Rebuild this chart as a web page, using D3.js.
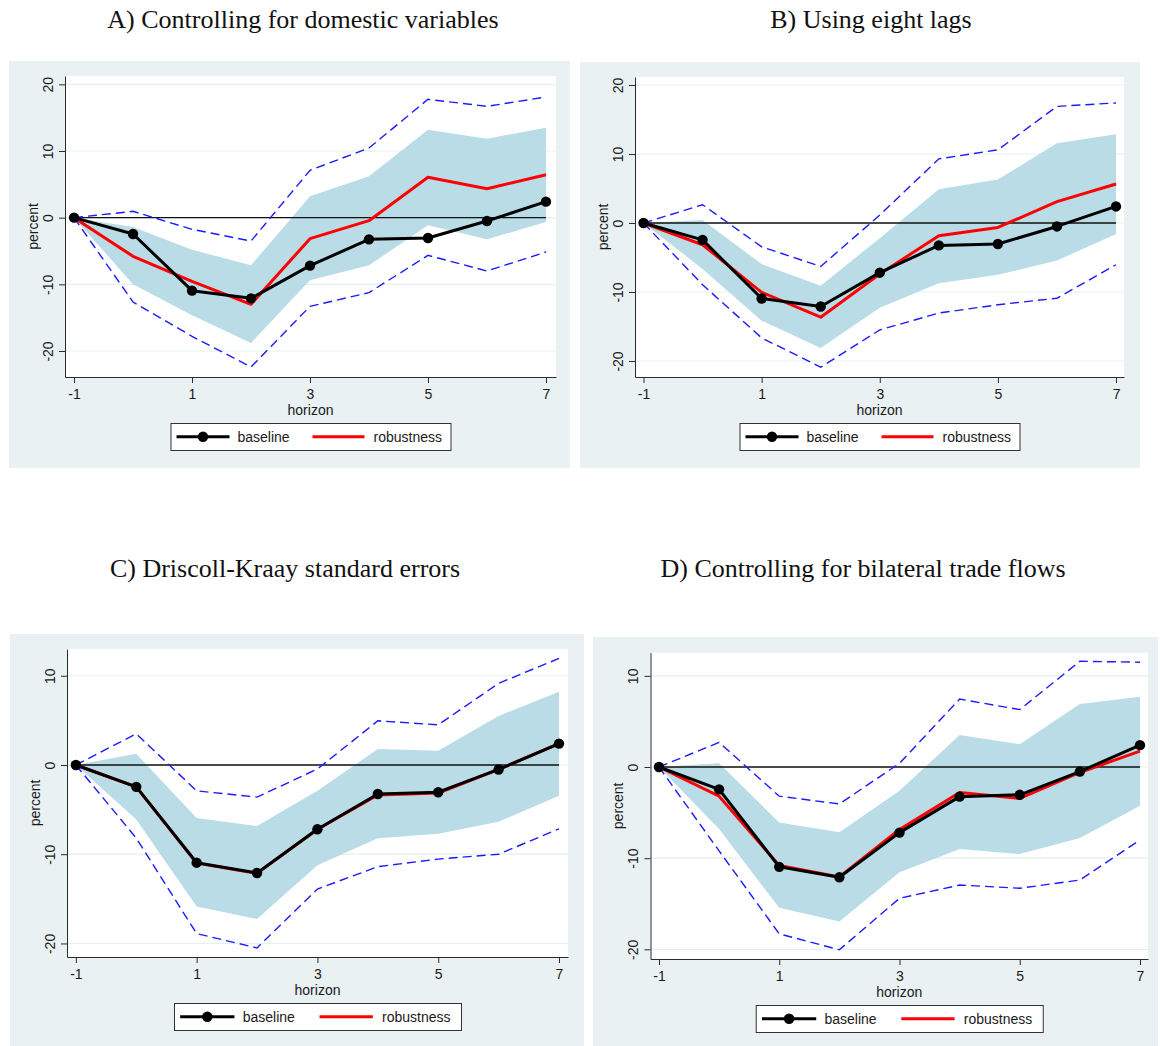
<!DOCTYPE html>
<html>
<head>
<meta charset="utf-8">
<script src="https://cdn.jsdelivr.net/npm/d3@7"></script>
<style>
  html, body { margin: 0; padding: 0; background: #ffffff; }
  svg { display: block; }
</style>
</head>
<body>
<svg id="chart" width="1160" height="1046"></svg>
<script>
// ---- data -------------------------------------------------------------
const horizons = [-1, 0, 1, 2, 3, 4, 5, 6, 7];
const xTickValues = [-1, 1, 3, 5, 7];
const yTicksWide = [-20, -10, 0, 10, 20];
const yTicksNarrow = [-20, -10, 0, 10];
const legendLabels = ["baseline", "robustness"];
const panelTitles = [
  "A) Controlling for domestic variables",
  "B) Using eight lags",
  "C) Driscoll-Kraay standard errors",
  "D) Controlling for bilateral trade flows"
];
const xAxisLabel = "horizon";
const yAxisLabel = "percent";

// baseline impulse response (same in every panel)
const baseline = [0, -2.45, -10.95, -12.1, -7.2, -3.25, -3.05, -0.5, 2.4];

// A) domestic controls
const robustA = [0, -5.8, -9.55, -13.0, -3.15, -0.45, 6.05, 4.35, 6.45];
const bandHiA = [0, -1.4, -4.8, -7.15, 3.2, 6.2, 13.2, 11.85, 13.5];
const bandLoA = [0, -10.0, -14.65, -18.8, -9.4, -7.15, -1.15, -3.25, -0.65];
const dashHiA = [0, 0.95, -1.75, -3.5, 7.1, 10.45, 17.75, 16.7, 18.1];
const dashLoA = [0, -12.65, -17.8, -22.4, -13.3, -11.25, -5.65, -8.0, -5.15];

// B) eight lags
const robustB = [0, -3.15, -10.05, -13.65, -7.4, -1.85, -0.65, 3.1, 5.65];
const bandHiB = [0, 0.45, -5.95, -9.1, -2.2, 4.9, 6.3, 11.55, 12.85];
const bandLoB = [0, -6.65, -14.15, -18.1, -12.3, -8.75, -7.5, -5.45, -1.6];
const dashHiB = [0, 2.65, -3.45, -6.3, 1.15, 9.3, 10.6, 16.9, 17.4];
const dashLoB = [0, -8.95, -16.65, -20.9, -15.5, -13.05, -11.85, -10.9, -6.05];

// C) Driscoll-Kraay
const robustC = [0, -2.45, -11.0, -12.15, -7.2, -3.35, -3.15, -0.5, 2.4];
const bandHiC = [0, 1.25, -5.95, -6.85, -2.9, 1.8, 1.6, 5.5, 8.2];
const bandLoC = [0, -6.1, -15.85, -17.25, -11.25, -8.2, -7.7, -6.35, -3.45];
const dashHiC = [0, 3.5, -2.9, -3.6, -0.45, 4.95, 4.5, 9.15, 11.95];
const dashLoC = [0, -8.2, -18.9, -20.5, -13.9, -11.4, -10.55, -10.0, -7.15];

// D) bilateral trade flows
const robustD = [0, -3.2, -10.8, -12.05, -6.85, -2.8, -3.45, -0.6, 1.75];
const bandHiD = [0, 0.4, -6.1, -7.15, -2.6, 3.5, 2.5, 6.9, 7.7];
const bandLoD = [0, -6.8, -15.45, -16.95, -11.55, -9.0, -9.55, -7.8, -4.25];
const dashHiD = [0, 2.7, -3.2, -4.05, 0.4, 7.45, 6.3, 11.6, 11.5];
const dashLoD = [0, -9.2, -18.3, -20.05, -14.4, -12.95, -13.3, -12.4, -8.0];

// ---- layout -----------------------------------------------------------
const panels = [
  { title: panelTitles[0], tx: 303, ty: 28,
    bg: { x: 9, y: 61, w: 561, h: 407 },
    plot: { l: 65, r: 556, t: 76, b: 377 },
    xd: [-1.153, 7.17], yd: [-23.9, 21.25], yTicks: yTicksWide, legW: 280,
    rob: robustA, hi: bandHiA, lo: bandLoA, dhi: dashHiA, dlo: dashLoA },
  { title: panelTitles[1], tx: 871, ty: 28,
    bg: { x: 580, y: 62, w: 560, h: 406 },
    plot: { l: 635, r: 1124, t: 77, b: 377 },
    xd: [-1.144, 7.135], yd: [-22.32, 21.16], yTicks: yTicksWide, legW: 280,
    rob: robustB, hi: bandHiB, lo: bandLoB, dhi: dashHiB, dlo: dashLoB },
  { title: panelTitles[2], tx: 285, ty: 577,
    bg: { x: 10, y: 634, w: 574, h: 412 },
    plot: { l: 67, r: 568, t: 649, b: 957 },
    xd: [-1.147, 7.149], yd: [-21.52, 13.0], yTicks: yTicksNarrow, legW: 287,
    rob: robustC, hi: bandHiC, lo: bandLoC, dhi: dashHiC, dlo: dashLoC },
  { title: panelTitles[3], tx: 863, ty: 577,
    bg: { x: 593, y: 637, w: 565, h: 409 },
    plot: { l: 650.5, r: 1148, t: 652.7, b: 959 },
    xd: [-1.141, 7.133], yd: [-21.06, 12.54], yTicks: yTicksNarrow, legW: 287,
    rob: robustD, hi: bandHiD, lo: bandLoD, dhi: dashHiD, dlo: dashLoD }
];

const COL = {
  region: "#e9f1f3",
  grid: "#e6eff2",
  band: "#b9dce6",
  dash: "#1a1aff",
  base: "#000000",
  rob: "#ff0000",
  axis: "#2b2b2b",
  text: "#1a1a1a"
};
const SANS = "'Liberation Sans', Arial, Helvetica, sans-serif";
const SERIF = "'Liberation Serif', 'Times New Roman', Times, serif";
const plain = d => String(d);   // ASCII hyphen for negatives

const svg = d3.select("#chart");

function drawPanel(p) {
  const g = svg.append("g");

  // panel title
  svg.append("text")
    .attr("x", p.tx).attr("y", p.ty)
    .attr("text-anchor", "middle")
    .style("font-family", SERIF).style("font-size", "26px")
    .attr("fill", "#111")
    .text(p.title);

  // graph region
  g.append("rect")
    .attr("x", p.bg.x).attr("y", p.bg.y)
    .attr("width", p.bg.w).attr("height", p.bg.h)
    .attr("fill", COL.region);

  // plot region
  g.append("rect")
    .attr("x", p.plot.l).attr("y", p.plot.t)
    .attr("width", p.plot.r - p.plot.l).attr("height", p.plot.b - p.plot.t)
    .attr("fill", "#ffffff");

  const x = d3.scaleLinear().domain(p.xd).range([p.plot.l, p.plot.r]);
  const y = d3.scaleLinear().domain(p.yd).range([p.plot.b, p.plot.t]);

  // horizontal grid lines
  g.append("g").selectAll("line").data(p.yTicks).join("line")
    .attr("x1", p.plot.l).attr("x2", p.plot.r)
    .attr("y1", d => y(d)).attr("y2", d => y(d))
    .attr("stroke", COL.grid).attr("stroke-width", 1.2);

  // confidence band
  const area = d3.area()
    .x((d, i) => x(horizons[i]))
    .y0((d, i) => y(p.lo[i]))
    .y1((d, i) => y(p.hi[i]));
  g.append("path").datum(horizons)
    .attr("d", area)
    .attr("fill", COL.band);

  // zero line
  g.append("line")
    .attr("x1", x(horizons[0])).attr("x2", x(horizons[horizons.length - 1]))
    .attr("y1", y(0)).attr("y2", y(0))
    .attr("stroke", "#111").attr("stroke-width", 1.3);

  const line = vals => d3.line()
    .x((d, i) => x(horizons[i]))
    .y((d, i) => y(vals[i]))(horizons);

  // outer interval (dashed)
  [p.dhi, p.dlo].forEach(vals => {
    g.append("path")
      .attr("d", line(vals))
      .attr("fill", "none")
      .attr("stroke", COL.dash).attr("stroke-width", 1.4)
      .attr("stroke-dasharray", "9,5");
  });

  // robustness estimate
  g.append("path")
    .attr("d", line(p.rob))
    .attr("fill", "none")
    .attr("stroke", COL.rob).attr("stroke-width", 3)
    .attr("stroke-linejoin", "round");

  // baseline estimate with markers
  g.append("path")
    .attr("d", line(baseline))
    .attr("fill", "none")
    .attr("stroke", COL.base).attr("stroke-width", 3)
    .attr("stroke-linejoin", "round");
  g.append("g").selectAll("circle").data(horizons).join("circle")
    .attr("cx", d => x(d))
    .attr("cy", (d, i) => y(baseline[i]))
    .attr("r", 5.2)
    .attr("fill", COL.base);

  // y axis
  const yAxis = g.append("g")
    .attr("transform", `translate(${p.plot.l},0)`)
    .call(d3.axisLeft(y).tickValues(p.yTicks).tickFormat(plain).tickSize(6).tickSizeOuter(0));
  yAxis.select(".domain").attr("stroke", COL.axis);
  yAxis.selectAll(".tick line").attr("stroke", COL.axis);
  yAxis.selectAll(".tick text")
    .attr("x", null).attr("dy", null)
    .attr("transform", "translate(-17,0) rotate(-90)")
    .attr("text-anchor", "middle")
    .attr("dy", "0.35em")
    .style("font-family", SANS).style("font-size", "14px")
    .attr("fill", COL.text);

  // x axis
  const xAxis = g.append("g")
    .attr("transform", `translate(0,${p.plot.b})`)
    .call(d3.axisBottom(x).tickValues(xTickValues).tickFormat(plain)
      .tickSize(6).tickSizeOuter(0).tickPadding(6));
  xAxis.select(".domain").attr("stroke", COL.axis);
  xAxis.selectAll(".tick line").attr("stroke", COL.axis);
  xAxis.selectAll(".tick text")
    .style("font-family", SANS).style("font-size", "14px")
    .attr("fill", COL.text);

  // axis titles
  const cx = (p.plot.l + p.plot.r) / 2;
  g.append("text")
    .attr("x", cx).attr("y", p.plot.b + 38)
    .attr("text-anchor", "middle")
    .style("font-family", SANS).style("font-size", "14px")
    .attr("fill", COL.text)
    .text(xAxisLabel);
  g.append("text")
    .attr("transform", `translate(${p.plot.l - 32},${(p.plot.t + p.plot.b) / 2}) rotate(-90)`)
    .attr("text-anchor", "middle")
    .attr("dy", "0.35em")
    .style("font-family", SANS).style("font-size", "14px")
    .attr("fill", COL.text)
    .text(yAxisLabel);

  // legend
  const lw = p.legW, lh = 27;
  const lx = cx - lw / 2, ly = p.plot.b + 46;
  const k = lw / 280;
  const lg = g.append("g").attr("transform", `translate(${lx},${ly})`);
  lg.append("rect")
    .attr("x", 0.5).attr("y", 0.5)
    .attr("width", lw).attr("height", lh)
    .attr("fill", "#ffffff").attr("stroke", "#333").attr("stroke-width", 1);
  const midY = 13.8;
  lg.append("line")
    .attr("x1", 6 * k).attr("x2", 59 * k).attr("y1", midY).attr("y2", midY)
    .attr("stroke", COL.base).attr("stroke-width", 3);
  lg.append("circle")
    .attr("cx", 32.5 * k).attr("cy", midY).attr("r", 5.2).attr("fill", COL.base);
  lg.append("text")
    .attr("x", 67 * k).attr("y", midY + 5)
    .style("font-family", SANS).style("font-size", "14px")
    .attr("fill", COL.text)
    .text(legendLabels[0]);
  lg.append("line")
    .attr("x1", 142 * k).attr("x2", 194 * k).attr("y1", midY).attr("y2", midY)
    .attr("stroke", COL.rob).attr("stroke-width", 3);
  lg.append("text")
    .attr("x", 203 * k).attr("y", midY + 5)
    .style("font-family", SANS).style("font-size", "14px")
    .attr("fill", COL.text)
    .text(legendLabels[1]);
}

panels.forEach(drawPanel);
</script>
</body>
</html>
